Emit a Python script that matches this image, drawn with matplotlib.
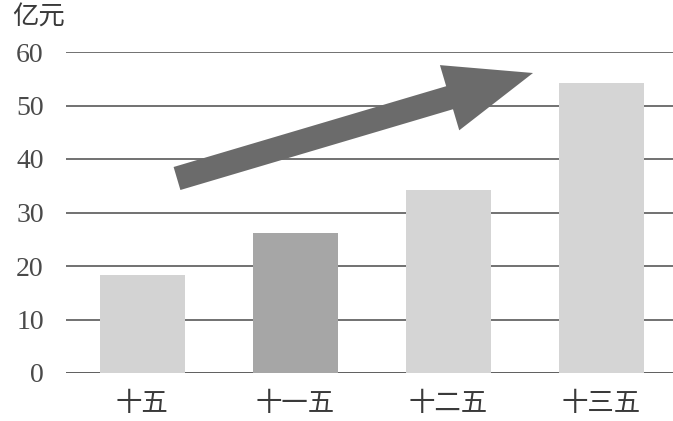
import numpy as np
import matplotlib
matplotlib.use('Agg')
import matplotlib.pyplot as plt
from matplotlib.patches import Polygon

# data
categories = ['十五', '十一五', '十二五', '十三五']
values = [18.3, 26.2, 34.2, 54.2]
bar_colors = ['#d3d3d3', '#a6a6a6', '#d5d5d5', '#d5d5d5']
y_ticks = [0, 10, 20, 30, 40, 50, 60]

W, H = 673, 421
fig = plt.figure(figsize=(W / 100, H / 100), dpi=100)
ax = fig.add_axes([66 / W, (H - 373) / H, 607 / W, 321 / H])

x = np.arange(len(categories))
for yv in y_ticks:
    ax.axhline(yv, color='#4a4a4a' if yv else '#333333', lw=1.1, zorder=1)
ax.bar(x, values, width=0.555, color=bar_colors, zorder=2)

ax.set_xlim(-0.497, 3.47)
ax.set_ylim(0, 60)
ax.set_yticks(y_ticks)
ax.set_xticks(x)
ax.set_xticklabels(categories, family=['Noto Sans CJK SC'], fontsize=19,
                   color='#3a3a3a', fontweight='light')
ax.set_yticklabels([str(v) for v in y_ticks], family=['Liberation Serif'],
                   fontsize=20, color='#4a4a4a')
ax.tick_params(axis='y', length=0, pad=16)
ax.tick_params(axis='x', length=0, pad=12)
for s in ax.spines.values():
    s.set_visible(False)
ax.patch.set_alpha(0)

fig.text(12 / W, 1 - 4 / H, '亿元', family=['Noto Sans CJK SC'], fontsize=19,
         color='#3a3a3a', fontweight='light', va='top', ha='left')

# decorative trend arrow, geometry in image pixels
tail = np.array([177.0, 178.5])
tip = np.array([533.0, 73.0])
shaft_w, head_w, head_len = 24.0, 68.0, 87.0
d = tip - tail
d /= np.linalg.norm(d)
n = np.array([-d[1], d[0]])
base = tip - d * head_len
pts = [tail + n * shaft_w / 2, base + n * shaft_w / 2, base + n * head_w / 2, tip,
       base - n * head_w / 2, base - n * shaft_w / 2, tail - n * shaft_w / 2]
pts = [(p[0] / W, 1 - p[1] / H) for p in pts]
fig.patches.append(Polygon(pts, closed=True, transform=fig.transFigure,
                           facecolor='#6b6b6b', edgecolor='none', zorder=5))

fig.savefig('out.png', dpi=100)
